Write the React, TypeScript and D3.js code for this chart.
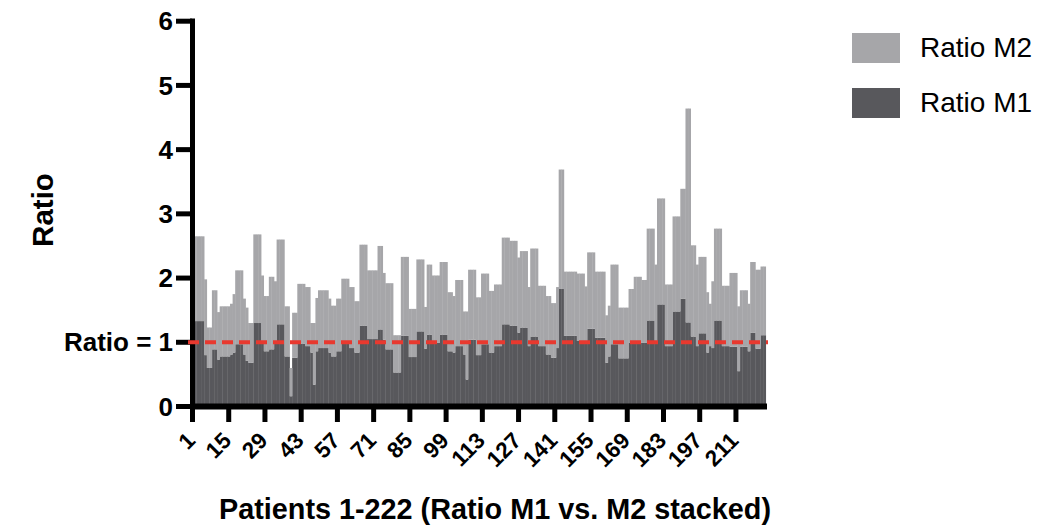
import * as d3 from "d3";

// Ratio per patient (M1 = dark bottom, M2 = light top, stacked)
const ratioM1 = [
  1.33, 1.33, 1.33, 1.33, 1.33, 0.80, 0.60, 0.60, 0.89, 0.89,
  0.73, 0.78, 0.78, 0.78, 0.78, 0.81, 0.84, 0.97, 0.97, 0.97,
  0.81, 0.71, 0.68, 0.68, 1.30, 1.30, 1.30, 0.99, 0.86, 0.86,
  0.89, 0.89, 0.99, 1.28, 1.28, 1.28, 0.78, 0.78, 0.16, 0.76,
  0.76, 0.98, 0.98, 0.98, 0.94, 0.94, 0.84, 0.34, 0.86, 0.91,
  0.91, 0.91, 0.91, 0.84, 0.78, 0.78, 0.86, 0.86, 0.98, 0.98,
  0.98, 0.91, 0.91, 0.84, 0.84, 1.26, 1.26, 1.26, 1.05, 1.05,
  1.05, 1.05, 1.20, 1.20, 1.04, 0.89, 0.89, 0.89, 0.53, 0.53,
  0.53, 1.10, 1.10, 1.10, 0.77, 0.77, 0.77, 1.17, 1.17, 1.17,
  0.90, 1.12, 1.12, 0.99, 0.99, 0.99, 1.12, 1.12, 1.12, 0.86,
  0.86, 0.84, 0.94, 0.94, 0.94, 0.81, 0.42, 1.04, 1.04, 1.04,
  0.80, 0.80, 0.97, 0.97, 0.97, 0.84, 0.84, 0.94, 0.94, 0.94,
  1.28, 1.28, 1.28, 1.26, 1.26, 1.26, 1.15, 1.23, 1.23, 1.23,
  0.94, 1.09, 1.09, 1.09, 0.94, 0.94, 0.94, 0.81, 0.81, 0.76,
  0.76, 0.91, 1.83, 1.83, 1.10, 1.10, 1.10, 1.10, 1.10, 1.02,
  1.02, 1.02, 0.99, 1.21, 1.21, 1.21, 1.07, 1.07, 1.07, 1.07,
  0.68, 0.78, 0.97, 0.97, 0.97, 0.75, 0.75, 0.75, 0.75, 0.99,
  0.99, 0.99, 0.99, 0.99, 0.99, 0.99, 1.34, 1.34, 1.34, 0.99,
  1.59, 1.59, 1.59, 0.94, 0.94, 0.94, 1.48, 1.48, 1.48, 1.68,
  1.68, 1.31, 1.31, 1.09, 1.09, 0.94, 1.14, 1.14, 1.14, 0.84,
  0.94, 0.91, 1.34, 1.34, 1.34, 0.94, 0.94, 0.94, 0.93, 0.93,
  0.93, 0.55, 0.93, 0.93, 0.93, 0.86, 1.15, 1.15, 0.90, 0.90, 1.11, 1.11,
];

const ratioM2 = [
  1.32, 1.32, 1.32, 1.32, 1.32, 1.18, 0.63, 0.63, 0.92, 0.92,
  0.74, 0.78, 0.78, 0.78, 0.78, 0.79, 0.91, 1.15, 1.15, 1.15,
  0.87, 0.83, 0.62, 0.62, 1.38, 1.38, 1.38, 1.05, 0.86, 0.86,
  1.13, 1.13, 0.96, 1.32, 1.32, 1.32, 0.78, 0.78, 0.44, 0.70,
  0.70, 0.93, 0.93, 0.93, 0.92, 0.92, 0.46, 0.96, 0.83, 0.90,
  0.90, 0.90, 0.90, 0.84, 0.79, 0.79, 0.82, 0.82, 1.01, 1.01,
  1.01, 0.95, 0.95, 0.80, 0.80, 1.26, 1.26, 1.26, 1.07, 1.07,
  1.07, 1.07, 1.30, 1.30, 1.04, 1.03, 1.03, 1.03, 0.58, 0.58,
  0.58, 1.23, 1.23, 1.23, 0.75, 0.75, 0.75, 1.12, 1.12, 1.12,
  0.65, 1.09, 1.09, 1.05, 1.05, 1.05, 1.13, 1.13, 1.13, 0.92,
  0.92, 0.88, 1.03, 1.03, 1.03, 0.67, 1.06, 1.09, 1.09, 1.09,
  0.90, 0.90, 1.10, 1.10, 1.10, 0.96, 0.96, 0.96, 0.96, 0.96,
  1.35, 1.35, 1.35, 1.32, 1.32, 1.32, 1.17, 1.19, 1.19, 1.19,
  0.92, 1.37, 1.37, 1.37, 0.94, 0.94, 0.94, 0.91, 0.91, 0.85,
  0.85, 0.95, 1.86, 1.86, 1.00, 1.00, 1.00, 1.00, 1.00, 1.05,
  1.05, 1.05, 0.88, 1.19, 1.19, 1.19, 1.03, 1.03, 1.03, 1.03,
  0.74, 0.79, 1.24, 1.24, 1.24, 0.79, 0.79, 0.79, 0.79, 0.84,
  0.84, 1.03, 1.03, 1.03, 0.98, 0.98, 1.43, 1.43, 1.43, 1.22,
  1.65, 1.65, 1.65, 0.96, 0.96, 0.96, 1.48, 1.48, 1.48, 1.71,
  1.71, 3.33, 3.33, 1.42, 1.42, 1.27, 1.19, 1.19, 1.19, 0.94,
  0.66, 1.04, 1.43, 1.43, 1.43, 0.94, 0.94, 0.94, 1.15, 1.15,
  1.15, 1.01, 0.88, 0.88, 0.88, 0.74, 1.10, 1.10, 1.23, 1.23, 1.07, 1.07,
];

const patients = d3.range(1, 223);
const xTicks = d3.range(1, 223, 14);
const yTicks = [0, 1, 2, 3, 4, 5, 6];
const seriesKeys = ["m1", "m2"];
const legendItems = [
  { key: "m2", label: "Ratio M2" },
  { key: "m1", label: "Ratio M1" },
];

const W = 1061, H = 529;
const FONT = "'Liberation Sans', Arial, Helvetica, sans-serif";
const COLORS = { m1: "#58585c", m2: "#a6a6a9" };

export default function App() {
  const x = d3.scaleBand<number>().domain(patients).range([191.2, 765.7]).padding(0);
  const y = d3.scaleLinear().domain([0, 6]).range([406.5, 21.2]);

  const rows = patients.map((p, i) => ({ patient: p, m1: ratioM1[i], m2: ratioM2[i] }));
  const stacked = d3.stack<any>().keys(seriesKeys)(rows);
  const bw = x.bandwidth();
  const cx = (p: number) => (x(p) as number) + bw / 2;

  return (
    <svg width={W} height={H} style={{ position: "absolute", left: 0, top: 0, background: "#fff" }}
      fontFamily={FONT}>
      {/* stacked bars */}
      {stacked.map((s) => (
        <g key={s.key} fill={COLORS[s.key as "m1" | "m2"]}>
          {s.map((d, i) => (
            <rect key={i} x={x(patients[i])} width={bw + 0.35}
              y={y(d[1])} height={y(d[0]) - y(d[1])} />
          ))}
        </g>
      ))}

      {/* y axis */}
      <line x1={192.5} x2={192.5} y1={18.5} y2={409} stroke="#000" strokeWidth={5} />
      {yTicks.map((t) => (
        <g key={t}>
          <line x1={176} x2={192} y1={y(t)} y2={y(t)} stroke="#000" strokeWidth={5} />
          <text x={173} y={y(t)} dy="0.35em" textAnchor="end" fontSize={26} fontWeight="bold">
            {t === 1 ? "Ratio = 1" : t}
          </text>
        </g>
      ))}

      {/* x axis */}
      <line x1={190} x2={767} y1={406.5} y2={406.5} stroke="#000" strokeWidth={6} />
      {xTicks.map((t) => (
        <g key={t}>
          <line x1={cx(t)} x2={cx(t)} y1={406} y2={422} stroke="#000" strokeWidth={5} />
          <text transform={`translate(${cx(t) + 4},442) rotate(-45)`} textAnchor="end"
            fontSize={22.5} fontWeight="bold">{t}</text>
        </g>
      ))}

      {/* reference line */}
      <line x1={188} x2={768} y1={y(1)} y2={y(1)} stroke="#e8392f" strokeWidth={4} strokeDasharray="11 6" />

      {/* axis titles */}
      <text transform={`translate(53,210) rotate(-90)`} textAnchor="middle" fontSize={29.5} fontWeight="bold">Ratio</text>
      <text x={495} y={519} textAnchor="middle" fontSize={29} fontWeight="bold"
        textLength={552} lengthAdjust="spacingAndGlyphs">
        Patients 1-222 (Ratio M1 vs. M2 stacked)
      </text>

      {/* legend */}
      {legendItems.map((l, i) => (
        <g key={l.key} transform={`translate(852,${33 + i * 55})`}>
          <rect width={48} height={30} fill={COLORS[l.key as "m1" | "m2"]} />
          <text x={68} y={24} fontSize={28}>{l.label}</text>
        </g>
      ))}
    </svg>
  );
}
